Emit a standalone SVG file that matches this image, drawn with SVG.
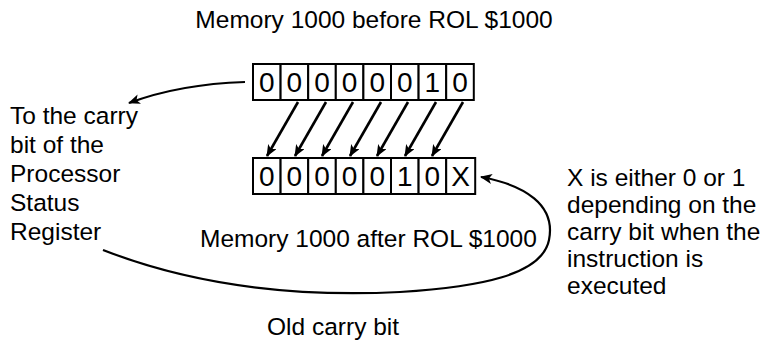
<svg xmlns="http://www.w3.org/2000/svg" width="782" height="354" viewBox="0 0 782 354">
<style>
text{font-family:"Liberation Sans",Arial,sans-serif;fill:#000;}
.lbl{font-size:24.5px;}
.dig{font-size:28px;text-anchor:middle;}
.cell{fill:#fff;stroke:#000;stroke-width:2;}
.con{fill:none;stroke:#000;stroke-width:2.6;}
.curve{fill:none;stroke:#000;stroke-width:2.2;}
</style>
<defs>
<marker id="ah" markerWidth="12" markerHeight="10" refX="11" refY="5" orient="auto" markerUnits="userSpaceOnUse">
<path d="M0,0 L12,5 L0,10 L3,5 Z" fill="#000"/>
</marker>
</defs>
<rect width="782" height="354" fill="#fff"/>
<g id="title"><text class="lbl" x="374" y="28" text-anchor="middle">Memory 1000 before ROL $1000</text></g>
<g id="before">
<rect class="cell" x="253" y="64" width="27.6" height="36"/>
<rect class="cell" x="280.6" y="64" width="27.6" height="36"/>
<rect class="cell" x="308.2" y="64" width="27.6" height="36"/>
<rect class="cell" x="335.8" y="64" width="27.6" height="36"/>
<rect class="cell" x="363.4" y="64" width="27.6" height="36"/>
<rect class="cell" x="391" y="64" width="27.6" height="36"/>
<rect class="cell" x="418.6" y="64" width="27.6" height="36"/>
<rect class="cell" x="446.2" y="64" width="27.6" height="36"/>
<text class="dig" x="266.8" y="92">0</text>
<text class="dig" x="294.4" y="92">0</text>
<text class="dig" x="322" y="92">0</text>
<text class="dig" x="349.6" y="92">0</text>
<text class="dig" x="377.2" y="92">0</text>
<text class="dig" x="404.8" y="92">0</text>
<text class="dig" x="432.4" y="92">1</text>
<text class="dig" x="460" y="92">0</text>
</g>
<g id="after">
<rect class="cell" x="253" y="158" width="27.6" height="36"/>
<rect class="cell" x="280.6" y="158" width="27.6" height="36"/>
<rect class="cell" x="308.2" y="158" width="27.6" height="36"/>
<rect class="cell" x="335.8" y="158" width="27.6" height="36"/>
<rect class="cell" x="363.4" y="158" width="27.6" height="36"/>
<rect class="cell" x="391" y="158" width="27.6" height="36"/>
<rect class="cell" x="418.6" y="158" width="27.6" height="36"/>
<rect class="cell" x="446.2" y="158" width="29" height="36"/>
<text class="dig" x="266.8" y="186">0</text>
<text class="dig" x="294.4" y="186">0</text>
<text class="dig" x="322" y="186">0</text>
<text class="dig" x="349.6" y="186">0</text>
<text class="dig" x="377.2" y="186">0</text>
<text class="dig" x="404.8" y="186">1</text>
<text class="dig" x="432.4" y="186">0</text>
<text class="dig" x="460.7" y="186">X</text>
</g>
<g id="afterLabel"><text class="lbl" x="200" y="247">Memory 1000 after ROL $1000</text></g>
<g id="carryLabel">
<text class="lbl" x="10" y="124">To the carry</text>
<text class="lbl" x="10" y="153">bit of the</text>
<text class="lbl" x="10" y="182">Processor</text>
<text class="lbl" x="10" y="211">Status</text>
<text class="lbl" x="10" y="240">Register</text>
</g>
<g id="xNote">
<text class="lbl" x="567" y="186">X is either 0 or 1</text>
<text class="lbl" x="567" y="213">depending on the</text>
<text class="lbl" x="567" y="240">carry bit when the</text>
<text class="lbl" x="567" y="267">instruction is</text>
<text class="lbl" x="567" y="294">executed</text>
</g>
<g id="oldCarry"><text class="lbl" x="267" y="335">Old carry bit</text></g>
<g id="connectors">
<line class="con" x1="298" y1="102" x2="267" y2="156" marker-end="url(#ah)"/>
<line class="con" x1="326" y1="102" x2="295" y2="156" marker-end="url(#ah)"/>
<line class="con" x1="353" y1="102" x2="322" y2="156" marker-end="url(#ah)"/>
<line class="con" x1="381" y1="102" x2="350" y2="156" marker-end="url(#ah)"/>
<line class="con" x1="408" y1="102" x2="377" y2="156" marker-end="url(#ah)"/>
<line class="con" x1="436" y1="102" x2="405" y2="156" marker-end="url(#ah)"/>
<line class="con" x1="463" y1="102" x2="432" y2="156" marker-end="url(#ah)"/>
<path class="curve" d="M245,82 Q180,84 129,103" marker-end="url(#ah)"/>
<path class="curve" d="M103,250 C180,280 280,298 400,292 C480,287 542,275 549,240 C556,205 525,185 481,177" marker-end="url(#ah)"/>
</g>
</svg>
